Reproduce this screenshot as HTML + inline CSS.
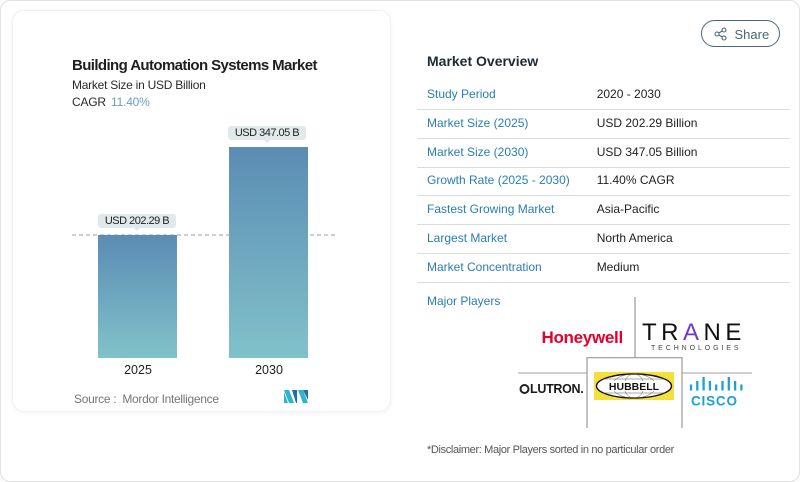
<!DOCTYPE html>
<html><head><meta charset="utf-8">
<style>
*{margin:0;padding:0;box-sizing:border-box}
html,body{width:800px;height:482px;background:#fff;overflow:hidden;font-family:"Liberation Sans",sans-serif}
.abs{position:absolute;white-space:nowrap;line-height:1}
.outer{position:absolute;left:0;top:0;width:800px;height:482px;border:1px solid #e1e1e1;border-radius:10px}
.card{position:absolute;left:12px;top:10px;width:379px;height:402px;border-radius:12px;border:1px solid #f1f1f1;box-shadow:0 1px 6px rgba(0,0,0,0.05)}
.bar{position:absolute;width:79px;background:linear-gradient(#5b8cb4,#80c2c9)}
.lbl{position:absolute;height:14px;background:#e2e9eb;border-radius:3px;font-size:11px;letter-spacing:-0.5px;color:#222;text-align:center;line-height:14px}
.lbl:after{content:"";position:absolute;left:50%;margin-left:-3px;bottom:-3px;border-left:3px solid transparent;border-right:3px solid transparent;border-top:3px solid #e2e9eb}
.rl{font-size:12px;color:#2a7db3}
.rv{font-size:12px;color:#222}
.hr{position:absolute;left:417px;width:373px;height:1px;background:#dcdcdc}
</style></head><body>
<div class="outer"></div>
<div class="card"></div>

<div class="abs" style="left:72px;top:57.5px;font-size:15px;font-weight:bold;letter-spacing:-0.6px;color:#1f1f1f">Building Automation Systems Market</div>
<div class="abs" style="left:72px;top:78.7px;font-size:12px;letter-spacing:-0.25px;color:#2a2a2a">Market Size in USD Billion</div>
<div class="abs" style="left:72px;top:96px;font-size:12px;letter-spacing:-0.2px;color:#2a2a2a">CAGR <span style="color:#6d9fc2;margin-left:2px">11.40%</span></div>

<svg class="abs" style="left:0;top:0" width="400" height="420">
<line x1="72" y1="235" x2="336" y2="235" stroke="#a3b5be" stroke-width="1.3" stroke-dasharray="4 3"/>
</svg>
<div class="bar" style="left:98px;top:234.5px;height:123.5px"></div>
<div class="bar" style="left:229px;top:147px;height:211px"></div>
<div class="lbl" style="left:98px;top:214px;width:78px">USD 202.29 B</div>
<div class="lbl" style="left:228px;top:125.5px;width:78px">USD 347.05 B</div>

<div class="abs" style="left:113px;top:363.7px;width:50px;text-align:center;font-size:12.5px;color:#222">2025</div>
<div class="abs" style="left:244px;top:363.7px;width:50px;text-align:center;font-size:12.5px;color:#222">2030</div>

<div class="abs" style="left:74px;top:392.7px;font-size:12px;letter-spacing:-0.3px;color:#777">Source :&nbsp; Mordor Intelligence</div>
<svg class="abs" style="left:284px;top:390px" width="24" height="14">
<polygon points="0,0 5,0 10,13 5,13" fill="#2fb5c9"/>
<polygon points="0,2 0,13 4,13" fill="#2fb5c9"/>
<polygon points="8,0 13,0 13,13 12,13" fill="#1f6fa8"/>
<polygon points="14,0 19,0 24,13 19,13" fill="#2fb5c9"/>
<polygon points="19,0 24,0 24,10" fill="#1f6fa8"/>
</svg>

<!-- Share button -->
<div class="abs" style="left:701px;top:19.5px;width:79px;height:27px;border:1.3px solid #4c6677;border-radius:14px"></div>
<svg class="abs" style="left:714px;top:27px" width="14" height="14">
<circle cx="10" cy="3" r="2" fill="none" stroke="#4c6677" stroke-width="1.1"/>
<circle cx="3" cy="7" r="2" fill="none" stroke="#4c6677" stroke-width="1.1"/>
<circle cx="10" cy="11" r="2" fill="none" stroke="#4c6677" stroke-width="1.1"/>
<line x1="4.8" y1="6" x2="8.2" y2="4" stroke="#4c6677" stroke-width="1.1"/>
<line x1="4.8" y1="8" x2="8.2" y2="10" stroke="#4c6677" stroke-width="1.1"/>
</svg>
<div class="abs" style="left:734.5px;top:27.5px;font-size:13px;color:#4c6677">Share</div>

<div class="abs" style="left:427px;top:53.7px;font-size:14px;font-weight:bold;color:#1e2a32">Market Overview</div>

<div class="abs rl" style="left:427px;top:88.3px">Study Period</div>
<div class="abs rv" style="left:596.7px;top:88.3px">2020 - 2030</div>
<div class="hr" style="top:109px"></div>
<div class="abs rl" style="left:427px;top:117.3px">Market Size (2025)</div>
<div class="abs rv" style="left:596.7px;top:117.3px">USD 202.29 Billion</div>
<div class="hr" style="top:138px"></div>
<div class="abs rl" style="left:427px;top:146.3px">Market Size (2030)</div>
<div class="abs rv" style="left:596.7px;top:146.3px">USD 347.05 Billion</div>
<div class="hr" style="top:166.5px"></div>
<div class="abs rl" style="left:427px;top:174px">Growth Rate (2025 - 2030)</div>
<div class="abs rv" style="left:596.7px;top:174px">11.40% CAGR</div>
<div class="hr" style="top:195px"></div>
<div class="abs rl" style="left:427px;top:203.3px">Fastest Growing Market</div>
<div class="abs rv" style="left:596.7px;top:203.3px">Asia-Pacific</div>
<div class="hr" style="top:224px"></div>
<div class="abs rl" style="left:427px;top:232.3px">Largest Market</div>
<div class="abs rv" style="left:596.7px;top:232.3px">North America</div>
<div class="hr" style="top:252.5px"></div>
<div class="abs rl" style="left:427px;top:261.3px">Market Concentration</div>
<div class="abs rv" style="left:596.7px;top:261.3px">Medium</div>
<div class="hr" style="top:281.5px"></div>
<div class="abs rl" style="left:427px;top:294.7px">Major Players</div>

<!-- logo grid lines -->
<svg class="abs" style="left:500px;top:290px" width="260" height="140">
<line x1="135" y1="7" x2="135" y2="67.7" stroke="#9a9a9a" stroke-width="1.2"/>
<line x1="18" y1="83" x2="87" y2="83" stroke="#b5b5b5" stroke-width="1.2"/>
<line x1="182" y1="83" x2="252" y2="83" stroke="#b5b5b5" stroke-width="1.2"/>
<polyline points="87,138 87,67.7 182,67.7 182,138" fill="none" stroke="#9a9a9a" stroke-width="1.2"/>
<!-- hubbell -->
<rect x="94" y="82" width="80" height="28" fill="#f4e03c"/>
<ellipse cx="134" cy="96" rx="37.5" ry="12" fill="#fff" stroke="#111" stroke-width="1.4"/>
<ellipse cx="134" cy="96" rx="22" ry="12" fill="none" stroke="#555" stroke-width="0.5"/>
<ellipse cx="134" cy="96" rx="10" ry="12" fill="none" stroke="#555" stroke-width="0.5"/>
<line x1="103" y1="89" x2="165" y2="89" stroke="#555" stroke-width="0.5"/>
<line x1="103" y1="103" x2="165" y2="103" stroke="#555" stroke-width="0.5"/>
<rect x="106" y="91" width="56" height="10" fill="#fff"/>
<text x="134" y="100" text-anchor="middle" font-family="Liberation Sans" font-weight="bold" font-size="10.5" fill="#111">HUBBELL</text>
<!-- cisco bars -->
<g stroke="#1ba0d7" stroke-width="2.3">
<line x1="191" y1="94.5" x2="191" y2="100.5"/>
<line x1="197.3" y1="91" x2="197.3" y2="100.5"/>
<line x1="203.6" y1="87" x2="203.6" y2="100.5"/>
<line x1="209.9" y1="91" x2="209.9" y2="100.5"/>
<line x1="216.2" y1="94.5" x2="216.2" y2="100.5"/>
<line x1="222.5" y1="91" x2="222.5" y2="100.5"/>
<line x1="228.8" y1="87" x2="228.8" y2="100.5"/>
<line x1="235.1" y1="91" x2="235.1" y2="100.5"/>
<line x1="241.4" y1="94.5" x2="241.4" y2="100.5"/>
</g>
<text x="191" y="115.5" font-family="Liberation Sans" font-weight="bold" font-size="13.5" letter-spacing="0.8" fill="#1ba0d7">CISCO</text>
<!-- lutron circle -->
<circle cx="24.5" cy="99" r="4" fill="none" stroke="#222" stroke-width="2"/>
</svg>

<div class="abs" style="left:541.5px;top:329px;font-size:17px;font-weight:bold;letter-spacing:-0.3px;color:#e4002b">Honeywell</div>
<div class="abs" style="left:642px;top:321px;font-size:24px;letter-spacing:4.5px;color:#111">TR<span style="color:#6c3bd1">A</span>NE</div>
<div class="abs" style="left:651px;top:345px;font-size:7px;letter-spacing:2.9px;color:#444">TECHNOLOGIES</div>
<div class="abs" style="left:530px;top:382.7px;font-size:12.5px;font-weight:bold;letter-spacing:-0.3px;color:#1a1a1a">LUTRON.</div>

<div class="abs" style="left:427px;top:444.5px;font-size:11px;letter-spacing:-0.35px;color:#555">*Disclaimer: Major Players sorted in no particular order</div>
</body></html>
